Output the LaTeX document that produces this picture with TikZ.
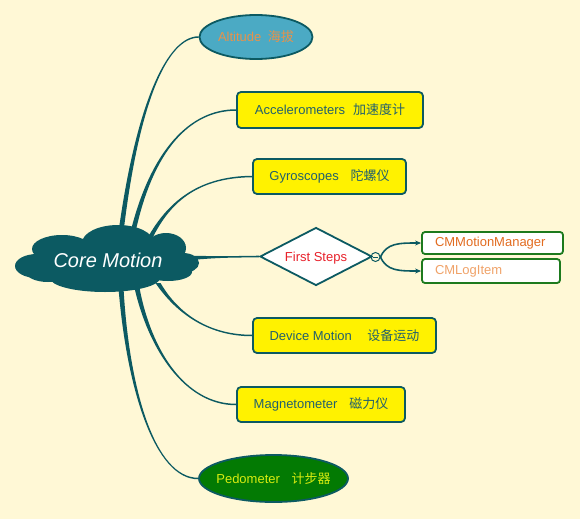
\documentclass[tikz,border=0pt]{standalone}
\usepackage{fontspec}
\setmainfont{Liberation Sans}
\newfontfamily\cjk{Noto Sans CJK SC}
\usetikzlibrary{shapes.geometric,calc,backgrounds,arrows.meta}
\definecolor{bgc}{HTML}{FFF8D6}
\definecolor{tealc}{HTML}{0C5A62}
\definecolor{boxtext}{HTML}{23606C}
\definecolor{altfill}{HTML}{4BAAC4}
\definecolor{alttext}{HTML}{E8924A}
\definecolor{pedfill}{HTML}{037A03}
\definecolor{pedtext}{HTML}{D8EC10}
\definecolor{greenc}{HTML}{1D7A1D}
\definecolor{cmmtext}{HTML}{E26B1F}
\definecolor{cmltext}{HTML}{F0A268}
\definecolor{fsred}{HTML}{E8202A}
\newcommand\taper[6]{% start, c1, c2, end, start half width, end side sign
  \fill[tealc] ($(#1)+(-#5,0)$) .. controls ($(#2)+(-#5/2,0)$) and ($(#3)+(0,#6*0.8)$) .. ($(#4)+(0,#6*0.75)$)
    -- ($(#4)+(0,-#6*0.75)$) .. controls ($(#3)+(0,-#6*0.8)$) and ($(#2)+(#5/2,0)$) .. ($(#1)+(#5,0)$) -- cycle;}
\tikzset{
  ybox/.style={draw=tealc, line width=1.8pt, fill=yellow, rounded corners=4pt, inner sep=0pt,
    text=boxtext, font=\fontsize{13}{15}\selectfont},
  wbox/.style={draw=greenc, line width=1.8pt, fill=white, rounded corners=3pt, inner xsep=13pt, inner ysep=0pt,
    align=left, font=\fontsize{13}{15}\selectfont},
  oval/.style={ellipse, draw=tealc, line width=1.8pt, inner sep=0pt, font=\fontsize{13}{15}\selectfont},
  puff/.style={fill=tealc},
}
\begin{document}
\begin{tikzpicture}[x=1pt,y=-1pt]
\useasboundingbox (0,0) rectangle (580,519);
% nodes
\node[oval, fill=altfill, text=alttext, minimum width=113pt, minimum height=44pt] (alt) at (256,37)
  {\makebox[0pt]{Altitude\hspace{0.5em}{\cjk 海拔}}};
\node[ybox, minimum width=186pt, minimum height=36pt] (acc) at (330,110)
  {Accelerometers\hspace{0.6em}{\cjk 加速度计}};
\node[ybox, minimum width=153pt, minimum height=35pt] (gyro) at (329.5,176.5)
  {Gyroscopes\hspace{0.9em}{\cjk 陀螺仪}};
\node[diamond, draw=tealc, line width=1.8pt, fill=white, minimum width=112pt, minimum height=58pt,
  inner sep=0pt, text=fsred, font=\fontsize{13}{15}\selectfont] (fs) at (316,256.5)
  {\makebox[0pt]{\smash{\raisebox{-5pt}{First Steps}}}};
\node[circle, draw=tealc, line width=1pt, fill=bgc, minimum size=9pt, inner sep=0pt,
  path picture={\draw[tealc, line width=0.8pt] ($(path picture bounding box.west)+(2.2,0)$) -- ($(path picture bounding box.east)+(-2.2,0)$);}]
  (tog) at (375.5,257) {};
\node[wbox, text=cmmtext, minimum height=22pt, text width=115pt] (cmm) at (492.5,243) {CMMotionManager};
\node[wbox, text=cmltext, minimum height=24pt, text width=112pt] (cml) at (491,271) {CMLogItem};
\node[ybox, minimum width=183pt, minimum height=35pt] (dm) at (344.5,335.5)
  {Device Motion\hspace{1.2em}{\cjk 设备运动}};
\node[ybox, minimum width=168pt, minimum height=35pt] (mag) at (321,404.5)
  {Magnetometer\hspace{0.9em}{\cjk 磁力仪}};
\node[oval, fill=pedfill, text=pedtext, minimum width=149pt, minimum height=47pt] (ped) at (273.5,478.5)
  {\makebox[0pt]{Pedometer\hspace{0.9em}{\cjk 计步器}}};
% cloud
\fill[puff] (37,266) ellipse [x radius=22, y radius=12];
\fill[puff] (62,249) ellipse [x radius=30, y radius=14];
\fill[puff] (118,243) ellipse [x radius=36, y radius=18];
\fill[puff] (166,248) ellipse [x radius=20, y radius=15];
\fill[puff] (183,263) ellipse [x radius=16, y radius=10];
\fill[puff] (168,272) ellipse [x radius=24, y radius=9];
\fill[puff] (105,278) ellipse [x radius=55, y radius=14];
\fill[puff] (48,272) ellipse [x radius=22, y radius=10];
\fill[puff] (106,262) ellipse [x radius=75, y radius=18];
\node[text=white, inner sep=0pt, font=\fontsize{20}{22}\selectfont\itshape] (core) at (108,260) {Core Motion};
% exit points on the cloud
\coordinate (s1) at (121,232);
\coordinate (s2) at (133,232);
\coordinate (s3) at (150,238);
\coordinate (s4) at (185,258);
\coordinate (s5) at (158,283);
\coordinate (s6) at (137,288);
\coordinate (s7) at (121,288);
\begin{scope}[on background layer]
  \fill[bgc] (0,0) rectangle (580,519);
  \taper{s1}{138,100}{168,37}{alt.west}{2.5}{-1}
  \taper{s2}{152,150}{190,110}{acc.west}{2.5}{-1}
  \taper{s3}{170,200}{200,177}{gyro.west}{2.5}{-1}
  \fill[tealc] ($(s4)+(0,-2.4)$) .. controls (220,256.3) .. ($(fs.west)+(0,-0.8)$) -- ($(fs.west)+(0,0.8)$) .. controls (220,257.7) .. ($(s4)+(0,2.4)$) -- cycle;
  \taper{s5}{175,310}{205,335.5}{dm.west}{2.5}{1}
  \taper{s6}{150,350}{185,404.5}{mag.west}{2.5}{1}
  \taper{s7}{128,390}{155,478.5}{ped.west}{2.5}{1}
\end{scope}
\draw[tealc, line width=1.2pt] (fs.east) -- (tog.west);
\draw[tealc, line width=1.6pt, -{Stealth[length=6pt,width=5pt]}] (tog.east) .. controls +(6,-14) and +(-22,0) .. (cmm.west);
\draw[tealc, line width=1.6pt, -{Stealth[length=6pt,width=5pt]}] (tog.east) .. controls +(6,14) and +(-22,0) .. (cml.west);
\end{tikzpicture}
\end{document}
